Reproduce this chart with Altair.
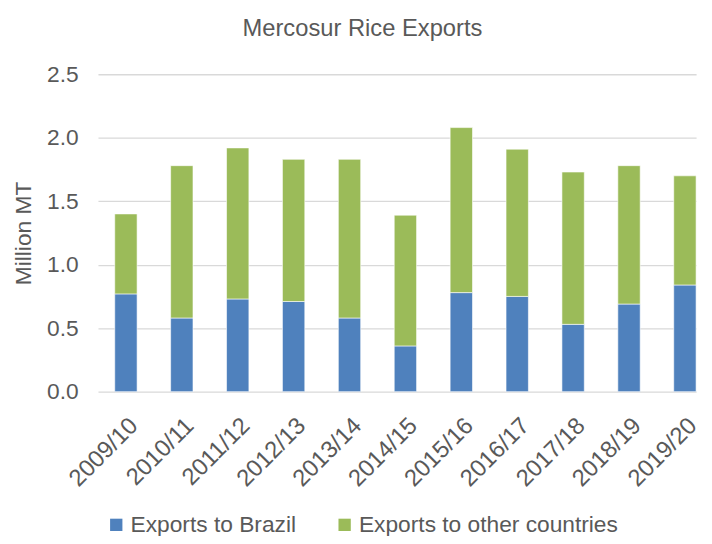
import altair as alt
import pandas as pd

seasons = ["2009/10", "2010/11", "2011/12", "2012/13", "2013/14", "2014/15",
           "2015/16", "2016/17", "2017/18", "2018/19", "2019/20"]
brazil = [0.77, 0.58, 0.73, 0.71, 0.58, 0.36, 0.78, 0.75, 0.53, 0.69, 0.84]
other = [0.63, 1.20, 1.19, 1.12, 1.25, 1.03, 1.30, 1.16, 1.20, 1.09, 0.86]
series = ["Exports to Brazil", "Exports to other countries"]
colors = ["#4f81bd", "#9bbb59"]
y_ticks = [0, 0.5, 1.0, 1.5, 2.0, 2.5]

rows = []
for s, b, o in zip(seasons, brazil, other):
    rows.append({"season": s, "series": series[0], "value": b, "ord": 0})
    rows.append({"season": s, "series": series[1], "value": o, "ord": 1})
df = pd.DataFrame(rows)

FONT = "Liberation Sans"
TXT = "#595959"

chart = alt.Chart(df).mark_bar(stroke="white", strokeWidth=0.6).encode(
    x=alt.X("season:N", sort=seasons, title=None,
            scale=alt.Scale(paddingInner=0.6, paddingOuter=0.15, align=1),
            axis=alt.Axis(labelAngle=-45, labelFontSize=24, labelColor=TXT,
                          labelFont=FONT, domain=False, ticks=False,
                          labelPadding=22, grid=False)),
    y=alt.Y("value:Q", stack="zero",
            scale=alt.Scale(domain=[0, 2.5], nice=False),
            axis=alt.Axis(values=y_ticks, format=".1f", title="Million MT",
                          grid=True, gridColor="#d9d9d9", gridWidth=1.3,
                          domain=False, ticks=False, labelPadding=20,
                          labelFontSize=23, labelColor=TXT, labelFont=FONT,
                          titleFontSize=23, titleColor=TXT, titleFont=FONT,
                          titleFontWeight="normal", titlePadding=11)),
    color=alt.Color("series:N", scale=alt.Scale(domain=series, range=colors),
                    legend=alt.Legend(title=None, orient="none", legendX=7,
                                      legendY=444, direction="horizontal",
                                      symbolType="square", symbolSize=155,
                                      symbolStrokeWidth=0, labelLimit=500,
                                      labelFontSize=23, labelColor=TXT,
                                      labelFont=FONT, columnPadding=37,
                                      labelOffset=3)),
    order=alt.Order("ord:Q"),
).properties(
    width=605, height=321,
    autosize=alt.AutoSizeParams(type="none"),
    padding={"left": 91, "top": 64, "right": 8, "bottom": 143},
    title=alt.TitleParams("Mercosur Rice Exports", fontSize=24, font=FONT,
                          color=TXT, fontWeight="normal", anchor="middle",
                          frame="group", dx=-35, offset=23),
).configure_view(stroke=None)

chart.save("out.html", embed_options={"renderer": "svg", "actions": False})
